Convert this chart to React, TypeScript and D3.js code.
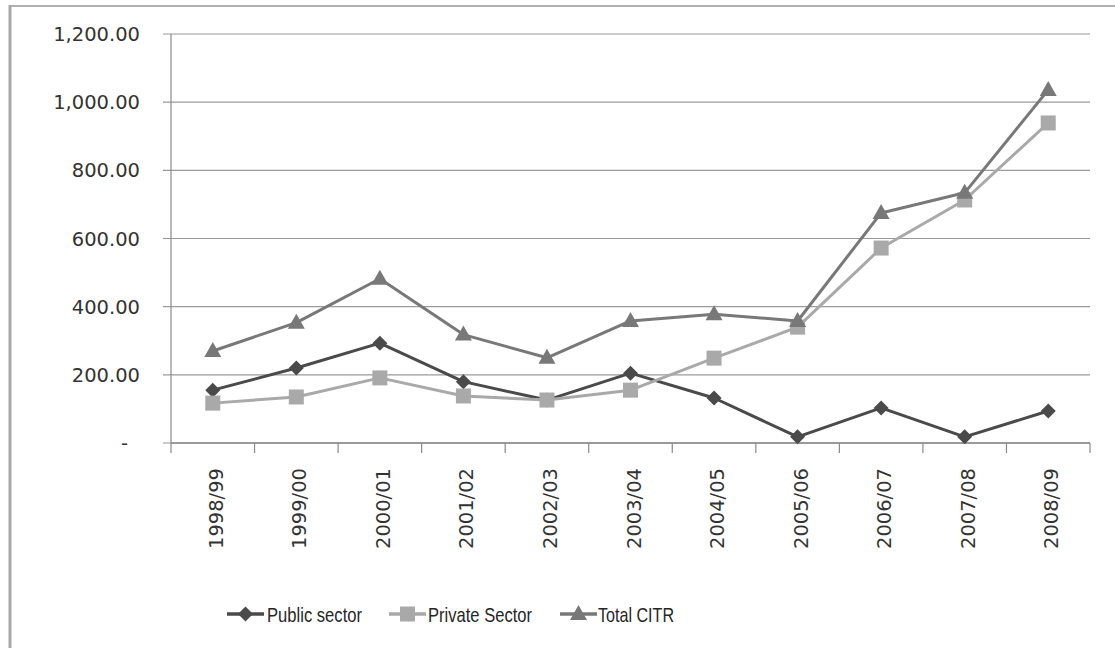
import React from "react";
import * as d3 from "d3";

const categories = ["1998/99","1999/00","2000/01","2001/02","2002/03","2003/04","2004/05","2005/06","2006/07","2007/08","2008/09"];
const publicSector = [155, 220, 293, 180, 126, 205, 132, 18, 103, 18, 94];
const privateSector = [117, 135, 191, 138, 126, 155, 249, 340, 572, 713, 939];
const totalCITR = [270, 353, 482, 318, 250, 358, 378, 358, 675, 734, 1036];
const yTicks = [0, 200, 400, 600, 800, 1000, 1200];
const seriesNames = ["Public sector", "Private Sector", "Total CITR"];

const W = 1115, H = 648;
const plot = { left: 171, right: 1090, top: 34, bottom: 443 };
const colors = ["#4a4a4a", "#a9a9a9", "#787878"];

function Marker({ kind, x, y, color }: { kind: string; x: number; y: number; color: string }) {
  if (kind === "diamond") {
    const s = 7.5;
    return <path d={`M${x},${y - s}L${x + s},${y}L${x},${y + s}L${x - s},${y}Z`} fill={color} />;
  }
  if (kind === "square") {
    const s = 7.5;
    return <rect x={x - s} y={y - s} width={2 * s} height={2 * s} fill={color} />;
  }
  const s = 8.5;
  return <path d={`M${x},${y - 9}L${x + s},${y + 6}L${x - s},${y + 6}Z`} fill={color} />;
}

export default function App() {
  const x = d3.scaleBand<string>().domain(categories).range([plot.left, plot.right]).padding(0);
  const y = d3.scaleLinear().domain([0, 1200]).range([plot.bottom, plot.top]);
  const cx = (c: string) => (x(c) as number) + x.bandwidth() / 2;
  const fmt = d3.format(",.2f");
  const line = d3.line<number>().x((_, i) => cx(categories[i])).y((d) => y(d));
  const series = [
    { name: seriesNames[0], values: publicSector, kind: "diamond", color: colors[0] },
    { name: seriesNames[1], values: privateSector, kind: "square", color: colors[1] },
    { name: seriesNames[2], values: totalCITR, kind: "triangle", color: colors[2] },
  ];
  const legendPos = [
    { lx: 227, tx: 267, tw: 95 },
    { lx: 389, tx: 428, tw: 104 },
    { lx: 560, tx: 598, tw: 76 },
  ];
  const legendY = 614;
  const boundaries = categories.map((c) => x(c) as number).concat([plot.right]);

  return (
    <svg width={W} height={H} style={{ position: "absolute", left: 0, top: 0, background: "#fff" }}>
      <rect x={0} y={0} width={W} height={H} fill="#fff" />
      <line x1={10} x2={W} y1={6} y2={6} stroke="#b0b0b0" strokeWidth={2} />
      <line x1={10} x2={10} y1={5} y2={H} stroke="#a8a8a8" strokeWidth={3} />

      {yTicks.map((t) => (
        <g key={t}>
          <line x1={plot.left - 8} x2={plot.right} y1={y(t)} y2={y(t)} stroke="#9a9a9a" strokeWidth={1.2} />
          <text
            x={t === 0 ? 128 : 140}
            y={y(t)}
            dy="0.36em"
            textAnchor="end"
            fontFamily="DejaVu Sans"
            fontSize={19.5}
            fill="#333"
          >
            {t === 0 ? "-" : fmt(t)}
          </text>
        </g>
      ))}
      <line x1={plot.left} x2={plot.left} y1={plot.top} y2={plot.bottom} stroke="#8a8a8a" strokeWidth={1.2} />
      <line x1={plot.left} x2={plot.right} y1={plot.bottom} y2={plot.bottom} stroke="#8a8a8a" strokeWidth={1.5} />
      {boundaries.map((b, i) => (
        <line key={i} x1={b} x2={b} y1={plot.bottom} y2={plot.bottom + 10} stroke="#8a8a8a" strokeWidth={1.2} />
      ))}
      {categories.map((c) => (
        <text
          key={c}
          transform={`translate(${cx(c) + 10},${468}) rotate(-90)`}
          textAnchor="end"
          fontFamily="DejaVu Sans"
          fontSize={19.5}
          fill="#333"
        >
          {c}
        </text>
      ))}

      {series.map((s) => (
        <g key={s.name}>
          <path d={line(s.values) || ""} fill="none" stroke={s.color} strokeWidth={3} strokeLinejoin="round" />
          {s.values.map((v, i) => (
            <Marker key={i} kind={s.kind} x={cx(categories[i])} y={y(v)} color={s.color} />
          ))}
        </g>
      ))}

      {series.map((s, i) => (
        <g key={s.name}>
          <line x1={legendPos[i].lx} x2={legendPos[i].lx + 37} y1={legendY} y2={legendY} stroke={s.color} strokeWidth={3.5} />
          <Marker kind={s.kind} x={legendPos[i].lx + 18.5} y={legendY} color={s.color} />
          <text
            x={legendPos[i].tx}
            y={legendY}
            dy="0.36em"
            fontFamily="Liberation Sans"
            fontSize={21}
            fill="#262626"
            textLength={legendPos[i].tw}
            lengthAdjust="spacingAndGlyphs"
          >
            {s.name}
          </text>
        </g>
      ))}
    </svg>
  );
}
